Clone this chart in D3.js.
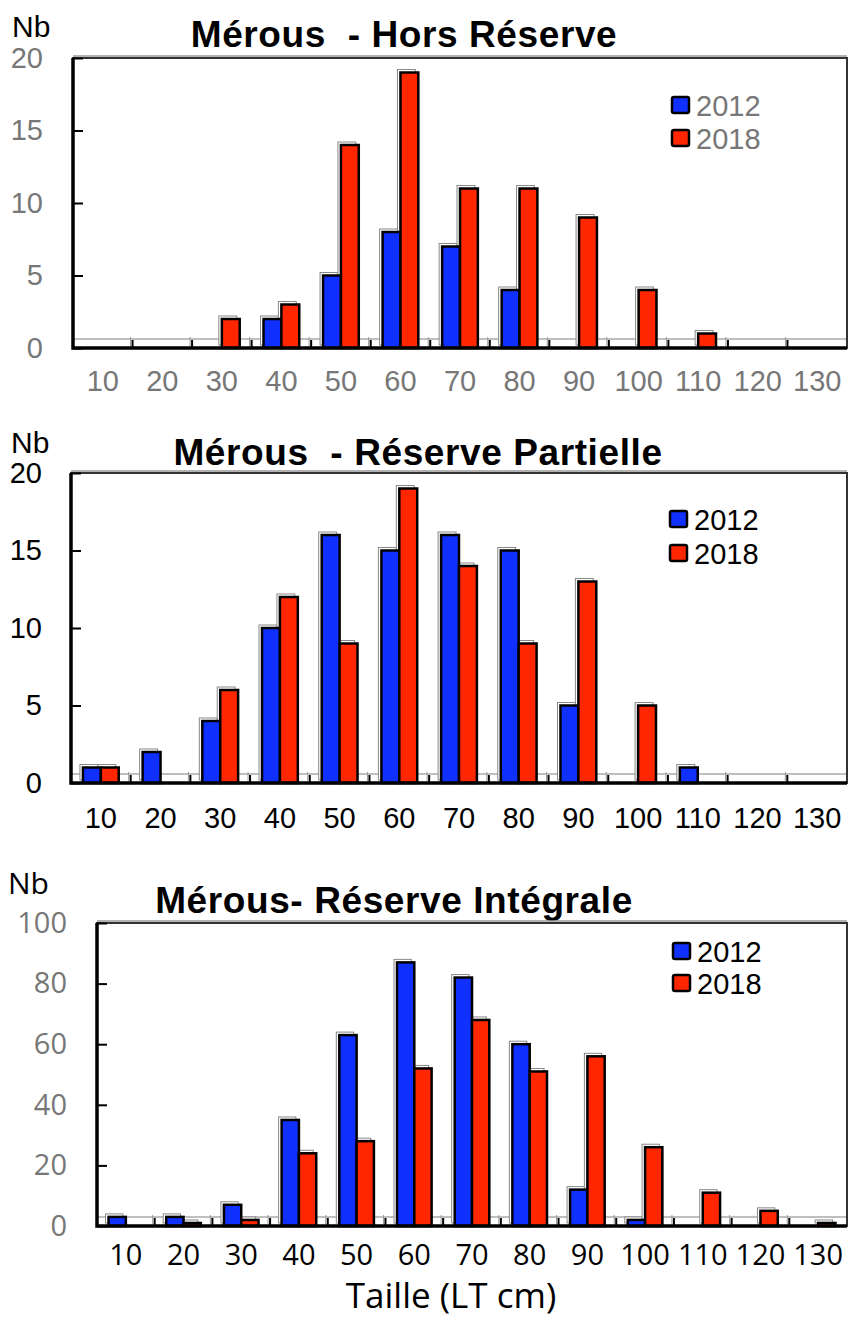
<!DOCTYPE html>
<html>
<head>
<meta charset="utf-8">
<script src="https://cdn.jsdelivr.net/npm/d3@7"></script>
<style>
  body { margin: 0; background: #fff; }
  svg { display: block; }
</style>
</head>
<body>
<div id="chart"></div>
<script>
'use strict';

var categories = [10, 20, 30, 40, 50, 60, 70, 80, 90, 100, 110, 120, 130];
var years = ['2012', '2018'];

var horsReserve2012 = [0, 0, 0, 2, 5, 8, 7, 4, 0, 0, 0, 0, 0];
var horsReserve2018 = [0, 0, 2, 3, 14, 19, 11, 11, 9, 4, 1, 0, 0];

var partielle2012 = [1, 2, 4, 10, 16, 15, 16, 15, 5, 0, 1, 0, 0];
var partielle2018 = [1, 0, 6, 12, 9, 19, 14, 9, 13, 5, 0, 0, 0];

var integrale2012 = [3, 3, 7, 35, 63, 87, 82, 60, 12, 2, 0, 0, 0];
var integrale2018 = [0, 1, 2, 24, 28, 52, 68, 51, 56, 26, 11, 5, 1];

var ticks20 = [0, 5, 10, 15, 20];
var ticks100 = [0, 20, 40, 60, 80, 100];

var blue = '#1030ff';
var red = '#ff2600';
var arial = 'Arial, "Liberation Sans", sans-serif';
var calibri = '"Open Sans", "Noto Sans", sans-serif';

var svg = d3.select('#chart')
  .append('svg')
  .attr('width', 849)
  .attr('height', 1321);

function drawPanel(cfg) {
  var g, x, y, bw, barW, series, i;

  x = d3.scaleBand()
    .domain(categories)
    .range([cfg.left, cfg.right])
    .padding(0);
  y = d3.scaleLinear()
    .domain([0, cfg.max])
    .range([cfg.bottom, cfg.top]);
  bw = x.bandwidth();
  barW = bw * 0.3;

  g = svg.append('g');

  // title and "Nb"
  g.append('text')
    .attr('x', cfg.titleX)
    .attr('y', cfg.titleY)
    .attr('text-anchor', 'middle')
    .attr('font-family', arial)
    .attr('font-weight', 'bold')
    .attr('font-size', 37)
    .attr('letter-spacing', 0.6)
    .style('white-space', 'pre')
    .text(cfg.title);
  g.append('text')
    .attr('x', cfg.nbX)
    .attr('y', cfg.nbY)
    .attr('font-family', cfg.nbFont)
    .attr('font-size', 30)
    .attr('fill', '#000')
    .text('Nb');

  // floor line (pseudo 3D)
  g.append('line')
    .attr('x1', cfg.left)
    .attr('x2', cfg.right)
    .attr('y1', cfg.bottom - 9)
    .attr('y2', cfg.bottom - 9)
    .attr('stroke', '#aaa')
    .attr('stroke-width', 1.5);

  // category separators
  for (i = 1; i < categories.length; i++) {
    g.append('line')
      .attr('x1', cfg.left + bw * i - 2)
      .attr('x2', cfg.left + bw * i - 2)
      .attr('y1', cfg.bottom - 2)
      .attr('y2', cfg.bottom - 11)
      .attr('stroke', '#999')
      .attr('stroke-width', 1);
    g.append('line')
      .attr('x1', cfg.left + bw * i)
      .attr('x2', cfg.left + bw * i)
      .attr('y1', cfg.bottom)
      .attr('y2', cfg.bottom - 8)
      .attr('stroke', '#000')
      .attr('stroke-width', 2);
  }

  // bars: a light offset outline behind, then the coloured bar
  series = [
    { values: cfg.s2012, color: blue, off: -barW },
    { values: cfg.s2018, color: red, off: 0 }
  ];
  series.forEach(function(s) {
    s.data = categories.map(function(c, k) {
      return { cat: c, v: s.values[k] };
    }).filter(function(d) { return d.v > 0; });

    g.selectAll(null)
      .data(s.data)
      .enter()
      .append('rect')
      .attr('x', function(d) { return x(d.cat) + bw / 2 + s.off - 3; })
      .attr('y', function(d) { return y(d.v) - 3; })
      .attr('width', barW)
      .attr('height', function(d) { return cfg.bottom - y(d.v); })
      .attr('fill', '#fff')
      .attr('stroke', '#888')
      .attr('stroke-width', 1);
  });
  series.forEach(function(s) {
    g.selectAll(null)
      .data(s.data)
      .enter()
      .append('rect')
      .attr('x', function(d) { return x(d.cat) + bw / 2 + s.off; })
      .attr('y', function(d) { return y(d.v); })
      .attr('width', barW)
      .attr('height', function(d) { return cfg.bottom - y(d.v); })
      .attr('fill', s.color)
      .attr('stroke', '#000')
      .attr('stroke-width', 2.5);
  });

  // frame
  g.append('line')
    .attr('x1', cfg.left)
    .attr('x2', cfg.right)
    .attr('y1', cfg.top - 2)
    .attr('y2', cfg.top - 2)
    .attr('stroke', '#999')
    .attr('stroke-width', 1.5);
  g.append('rect')
    .attr('x', cfg.left)
    .attr('y', cfg.top)
    .attr('width', cfg.right - cfg.left)
    .attr('height', cfg.bottom - cfg.top)
    .attr('fill', 'none')
    .attr('stroke', '#333')
    .attr('stroke-width', 2);
  g.append('path')
    .attr('d', 'M' + cfg.left + ',' + cfg.top + 'V' + cfg.bottom + 'H' + cfg.right)
    .attr('fill', 'none')
    .attr('stroke', '#000')
    .attr('stroke-width', 3.5);

  // axes
  g.append('g')
    .attr('transform', 'translate(' + cfg.left + ',0)')
    .call(d3.axisLeft(y)
      .tickValues(cfg.ticks)
      .tickSizeInner(-10)
      .tickSizeOuter(0)
      .tickPadding(cfg.yPad))
    .call(function(a) {
      a.select('.domain').remove();
      a.selectAll('line').attr('stroke', '#000').attr('stroke-width', 2);
      a.selectAll('text')
        .attr('font-family', cfg.font)
        .attr('font-size', 29)
        .attr('fill', cfg.yColor);
    });

  g.append('g')
    .attr('transform', 'translate(0,' + cfg.bottom + ')')
    .call(d3.axisBottom(x)
      .tickSize(0)
      .tickPadding(cfg.xPad))
    .call(function(a) {
      a.select('.domain').remove();
      a.selectAll('text')
        .attr('font-family', cfg.font)
        .attr('font-size', 29)
        .attr('fill', cfg.xColor);
    });

  // legend
  years.forEach(function(yr, k) {
    var ly = cfg.legendY + k * cfg.legendStep;
    g.append('rect')
      .attr('x', cfg.legendX)
      .attr('y', ly)
      .attr('width', 17)
      .attr('height', 16)
      .attr('rx', 2)
      .attr('fill', k === 0 ? blue : red)
      .attr('stroke', '#000')
      .attr('stroke-width', 2.5);
    g.append('text')
      .attr('x', cfg.legendX + 24)
      .attr('y', ly + 19)
      .attr('font-family', arial)
      .attr('font-size', 29)
      .attr('fill', cfg.legendColor)
      .text(yr);
  });
}

drawPanel({
  title: 'Mérous  - Hors Réserve',
  titleX: 404, titleY: 47,
  nbX: 12, nbY: 37, nbFont: arial,
  left: 73, right: 847, top: 58, bottom: 348,
  max: 20, ticks: ticks20,
  s2012: horsReserve2012, s2018: horsReserve2018,
  font: arial, yColor: '#777', xColor: '#777', legendColor: '#777',
  yPad: 30, xPad: 22,
  legendX: 672, legendY: 97, legendStep: 33
});

drawPanel({
  title: 'Mérous  - Réserve Partielle',
  titleX: 418, titleY: 465,
  nbX: 11, nbY: 453, nbFont: arial,
  left: 71, right: 847, top: 473, bottom: 783,
  max: 20, ticks: ticks20,
  s2012: partielle2012, s2018: partielle2018,
  font: arial, yColor: '#000', xColor: '#000', legendColor: '#000',
  yPad: 29, xPad: 24,
  legendX: 670, legendY: 511, legendStep: 34
});

drawPanel({
  title: 'Mérous- Réserve Intégrale',
  titleX: 394, titleY: 913,
  nbX: 8, nbY: 894, nbFont: calibri,
  left: 97, right: 847, top: 923, bottom: 1226,
  max: 100, ticks: ticks100,
  s2012: integrale2012, s2018: integrale2018,
  font: calibri, yColor: '#777', xColor: '#000', legendColor: '#000',
  yPad: 30, xPad: 18,
  legendX: 673, legendY: 943, legendStep: 32
});

svg.append('text')
  .attr('x', 451)
  .attr('y', 1308)
  .attr('text-anchor', 'middle')
  .attr('font-family', calibri)
  .attr('font-size', 35)
  .attr('fill', '#000')
  .text('Taille (LT cm)');
</script>
</body>
</html>
